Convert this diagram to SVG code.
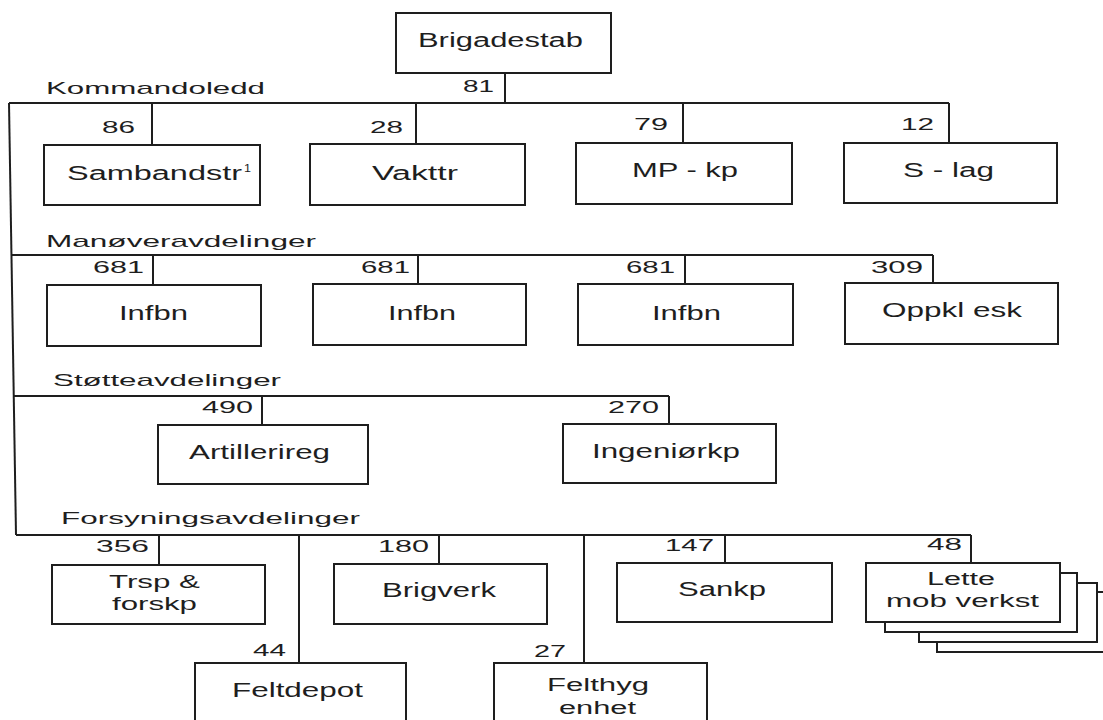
<svg xmlns="http://www.w3.org/2000/svg" width="1103" height="720" viewBox="0 0 1103 720">
<style>
  .box { fill: #fff; stroke: #1e1e1e; stroke-width: 2; }
  .con { fill: none; stroke: #1e1e1e; stroke-width: 2; }
  text { font-family: "Liberation Sans", Arial, sans-serif; fill: #1e1e1e; }
  .t { font-size: 20px; }
  .t2 { font-size: 18px; }
  .n { font-size: 17px; }
  .s { font-size: 17px; }
  .sup { font-size: 11px; }
</style>
<rect width="1103" height="720" fill="#fff"/>

<g id="connectors">
  <path class="con" d="M505,73 V103"/>
  <path class="con" d="M9,103 H949"/>
  <path class="con" d="M9,103 L16,535"/>
  <path class="con" d="M152,103 V145 M416,103 V144 M683,103 V143 M949,103 V143"/>
  <path class="con" d="M11.5,255 H933"/>
  <path class="con" d="M153,255 V285 M418,255 V284 M685,255 V284 M933,255 V283"/>
  <path class="con" d="M13.7,396 H669"/>
  <path class="con" d="M262,396 V425 M669,396 V424"/>
  <path class="con" d="M16,535 H971"/>
  <path class="con" d="M159,535 V565 M299,535 V663 M439,535 V564 M584,535 V663 M725,535 V563 M971,535 V563"/>
</g>

<g id="section-labels">
  <text class="s" x="46" y="94" textLength="219" lengthAdjust="spacingAndGlyphs">Kommandoledd</text>
  <text class="s" x="46" y="247" textLength="270" lengthAdjust="spacingAndGlyphs">Manøveravdelinger</text>
  <text class="s" x="53" y="386" textLength="228" lengthAdjust="spacingAndGlyphs">Støtteavdelinger</text>
  <text class="s" x="61" y="524" textLength="299" lengthAdjust="spacingAndGlyphs">Forsyningsavdelinger</text>
</g>

<g id="numbers">
  <text class="n" x="463" y="92" textLength="31" lengthAdjust="spacingAndGlyphs">81</text>
  <text class="n" x="102" y="133" textLength="33" lengthAdjust="spacingAndGlyphs">86</text>
  <text class="n" x="370" y="133" textLength="33" lengthAdjust="spacingAndGlyphs">28</text>
  <text class="n" x="634" y="130" textLength="34" lengthAdjust="spacingAndGlyphs">79</text>
  <text class="n" x="901" y="130" textLength="33" lengthAdjust="spacingAndGlyphs">12</text>
  <text class="n" x="93" y="273" textLength="51" lengthAdjust="spacingAndGlyphs">681</text>
  <text class="n" x="361" y="273" textLength="49" lengthAdjust="spacingAndGlyphs">681</text>
  <text class="n" x="626" y="273" textLength="49" lengthAdjust="spacingAndGlyphs">681</text>
  <text class="n" x="871" y="273" textLength="52" lengthAdjust="spacingAndGlyphs">309</text>
  <text class="n" x="202" y="413" textLength="51" lengthAdjust="spacingAndGlyphs">490</text>
  <text class="n" x="608" y="413" textLength="51" lengthAdjust="spacingAndGlyphs">270</text>
  <text class="n" x="96" y="552" textLength="53" lengthAdjust="spacingAndGlyphs">356</text>
  <text class="n" x="378" y="552" textLength="51" lengthAdjust="spacingAndGlyphs">180</text>
  <text class="n" x="665" y="551" textLength="49" lengthAdjust="spacingAndGlyphs">147</text>
  <text class="n" x="927" y="550" textLength="35" lengthAdjust="spacingAndGlyphs">48</text>
  <text class="n" x="253" y="656" textLength="33" lengthAdjust="spacingAndGlyphs">44</text>
  <text class="n" x="534" y="657" textLength="32" lengthAdjust="spacingAndGlyphs">27</text>
</g>

<g id="brigadestab">
  <rect class="box" x="396" y="13" width="215" height="60"/>
  <text class="t" x="418" y="47" textLength="165" lengthAdjust="spacingAndGlyphs">Brigadestab</text>
</g>
<g id="sambandstr">
  <rect class="box" x="44" y="145" width="216" height="60"/>
  <text class="t" x="67" y="180" textLength="175" lengthAdjust="spacingAndGlyphs">Sambandstr</text>
  <text class="sup" x="244" y="172" textLength="7" lengthAdjust="spacingAndGlyphs">1</text>
</g>
<g id="vakttr">
  <rect class="box" x="310" y="144" width="215" height="61"/>
  <text class="t" x="372" y="180" textLength="86" lengthAdjust="spacingAndGlyphs">Vakttr</text>
</g>
<g id="mp-kp">
  <rect class="box" x="576" y="143" width="216" height="61"/>
  <text class="t" x="632" y="177" textLength="106" lengthAdjust="spacingAndGlyphs">MP - kp</text>
</g>
<g id="s-lag">
  <rect class="box" x="844" y="143" width="213" height="60"/>
  <text class="t" x="903" y="177" textLength="91" lengthAdjust="spacingAndGlyphs">S - lag</text>
</g>
<g id="infbn-1">
  <rect class="box" x="47" y="285" width="214" height="61"/>
  <text class="t" x="119" y="320" textLength="69" lengthAdjust="spacingAndGlyphs">Infbn</text>
</g>
<g id="infbn-2">
  <rect class="box" x="313" y="284" width="213" height="61"/>
  <text class="t" x="388" y="320" textLength="68" lengthAdjust="spacingAndGlyphs">Infbn</text>
</g>
<g id="infbn-3">
  <rect class="box" x="578" y="284" width="215" height="61"/>
  <text class="t" x="652" y="320" textLength="69" lengthAdjust="spacingAndGlyphs">Infbn</text>
</g>
<g id="oppkl-esk">
  <rect class="box" x="845" y="283" width="213" height="61"/>
  <text class="t" x="882" y="317" textLength="140" lengthAdjust="spacingAndGlyphs">Oppkl esk</text>
</g>
<g id="artillerireg">
  <rect class="box" x="158" y="425" width="210" height="59"/>
  <text class="t" x="189" y="459" textLength="141" lengthAdjust="spacingAndGlyphs">Artillerireg</text>
</g>
<g id="ingeniorkp">
  <rect class="box" x="563" y="424" width="213" height="59"/>
  <text class="t" x="592" y="458" textLength="148" lengthAdjust="spacingAndGlyphs">Ingeniørkp</text>
</g>
<g id="trsp-forskp">
  <rect class="box" x="52" y="565" width="213" height="59"/>
  <text class="t2" x="109" y="588" textLength="91" lengthAdjust="spacingAndGlyphs">Trsp &amp;</text>
  <text class="t2" x="112" y="610" textLength="85" lengthAdjust="spacingAndGlyphs">forskp</text>
</g>
<g id="brigverk">
  <rect class="box" x="334" y="564" width="213" height="60"/>
  <text class="t" x="382" y="597" textLength="114" lengthAdjust="spacingAndGlyphs">Brigverk</text>
</g>
<g id="sankp">
  <rect class="box" x="617" y="563" width="215" height="59"/>
  <text class="t" x="678" y="596" textLength="88" lengthAdjust="spacingAndGlyphs">Sankp</text>
</g>
<g id="lette-mob-verkst">
  <rect class="box" x="937" y="592" width="190" height="60"/>
  <rect class="box" x="919" y="583" width="178" height="59"/>
  <rect class="box" x="885" y="573" width="192" height="59"/>
  <rect class="box" x="866" y="563" width="194" height="59"/>
  <text class="t2" x="927" y="585" textLength="68" lengthAdjust="spacingAndGlyphs">Lette</text>
  <text class="t2" x="886" y="607" textLength="153" lengthAdjust="spacingAndGlyphs">mob verkst</text>
</g>
<g id="feltdepot">
  <rect class="box" x="195" y="663" width="211" height="70"/>
  <text class="t" x="232" y="697" textLength="131" lengthAdjust="spacingAndGlyphs">Feltdepot</text>
</g>
<g id="felthyg-enhet">
  <rect class="box" x="494" y="663" width="213" height="70"/>
  <text class="t2" x="547" y="691" textLength="102" lengthAdjust="spacingAndGlyphs">Felthyg</text>
  <text class="t2" x="559" y="714" textLength="77" lengthAdjust="spacingAndGlyphs">enhet</text>
</g>
</svg>
